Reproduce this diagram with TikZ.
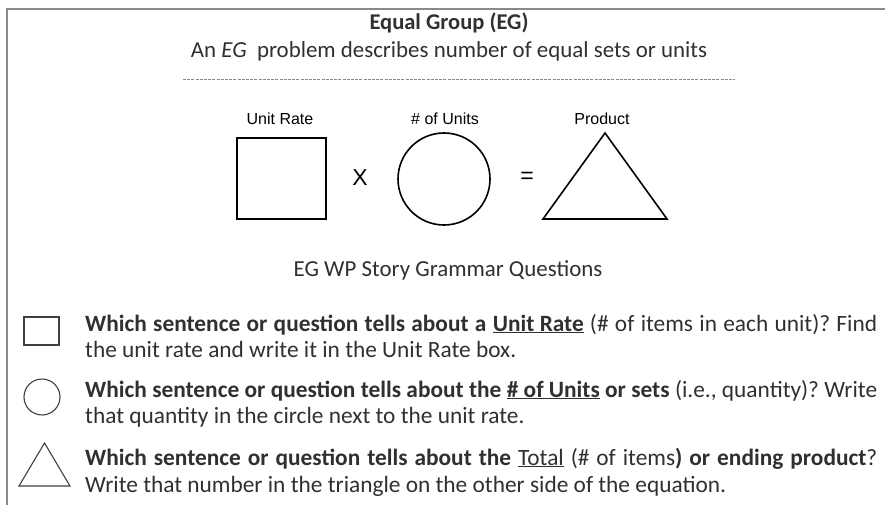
\documentclass[tikz,border=0pt]{standalone}
\usepackage{fontspec}
\setmainfont{Carlito}
\newfontfamily\arialfont{Liberation Sans}
\definecolor{txt}{HTML}{303030}
\definecolor{frame}{HTML}{8A8A8A}
\frenchspacing
\newcommand{\fullline}[1]{\makebox[792pt][s]{#1}}
\tikzset{
  shapeline/.style={draw=black, line width=1.6pt},
  iconline/.style={draw=black!75, line width=1.1pt},
  lbl/.style={font=\arialfont\fontsize{16}{19}\selectfont, text=black, inner sep=0pt},
  opsign/.style={font=\arialfont\fontsize{23}{26}\selectfont, text=black, inner sep=0pt},
  head/.style={font=\fontsize{22.9}{27}\selectfont, text=txt, inner sep=0pt, anchor=base},
  body/.style={font=\fontsize{23.35}{28}\selectfont, text=txt, inner sep=0pt, anchor=base west},
}
\begin{document}
\begin{tikzpicture}[x=1pt,y=-1pt]
\useasboundingbox (0,0) rectangle (885,505);
\fill[white] (0,0) rectangle (885,505);
% frame
\coordinate (fbl) at (7,505);
\coordinate (ftl) at (7,9);
\coordinate (ftr) at (885,9);
\draw[frame, line width=2pt] (fbl) -- (ftl) -- (ftr);
% header
\node[head, font=\bfseries\fontsize{22.5}{27}\selectfont] (title) at (449,30) {Equal Group (EG)};
\node[head] (sub) at (449,58) {An \textit{EG}\ \ problem describes number of equal sets or units};
\coordinate (dl) at (183,80);
\coordinate (dr) at (735,80);
\draw[frame, line width=1pt, dash pattern=on 3pt off 1.2pt] (dl) -- (dr);
% equation
\node[lbl] (lur) at (280,119) {Unit Rate};
\node[lbl] (lnu) at (445,119) {\# of Units};
\node[lbl] (lpr) at (602,119) {Product};
\node[shapeline, rectangle, minimum width=89pt, minimum height=81pt, inner sep=0pt] (sq) at (281.5,178.5) {};
\node[opsign] (times) at (360,178) {X};
\node[shapeline, circle, minimum size=92pt, inner sep=0pt] (ci) at (444,179) {};
\node[opsign] (eq) at (527,178) {=};
\coordinate (ta) at (605,133);
\coordinate (tl) at (543,219);
\coordinate (tr) at (667,219);
\draw[shapeline, line join=miter] (ta) -- (tl) -- (tr) -- cycle;
% questions heading
\node[head] (sg) at (448,276) {EG WP Story Grammar Questions};
% icons
\node[iconline, rectangle, minimum width=35pt, minimum height=28pt, inner sep=0pt] (isq) at (41.5,331) {};
\node[iconline, circle, minimum size=36pt, inner sep=0pt] (ici) at (42,397) {};
\coordinate (ita) at (44.5,443);
\coordinate (itl) at (19,486);
\coordinate (itr) at (70,486);
\draw[iconline, line join=miter] (ita) -- (itl) -- (itr) -- cycle;
% body
\node[body] (q1a) at (85,331) {\fullline{\textbf{Which sentence or question tells about a \underline{Unit Rate}} (\# of items in each unit)? Find}};
\node[body] (q1b) at (85,357) {the unit rate and write it in the Unit Rate box.};
\node[body] (q2a) at (85,397) {\fullline{\textbf{Which sentence or question tells about the \underline{\# of Units} or sets} (i.e., quantity)? Write}};
\node[body] (q2b) at (85,423) {that quantity in the circle next to the unit rate.};
\node[body] (q3a) at (85,465) {\fullline{\textbf{Which sentence or question tells about the} \underline{Total} (\# of items\textbf{) or ending product}?}};
\node[body] (q3b) at (85,492) {Write that number in the triangle on the other side of the equation.};
\end{tikzpicture}
\end{document}
